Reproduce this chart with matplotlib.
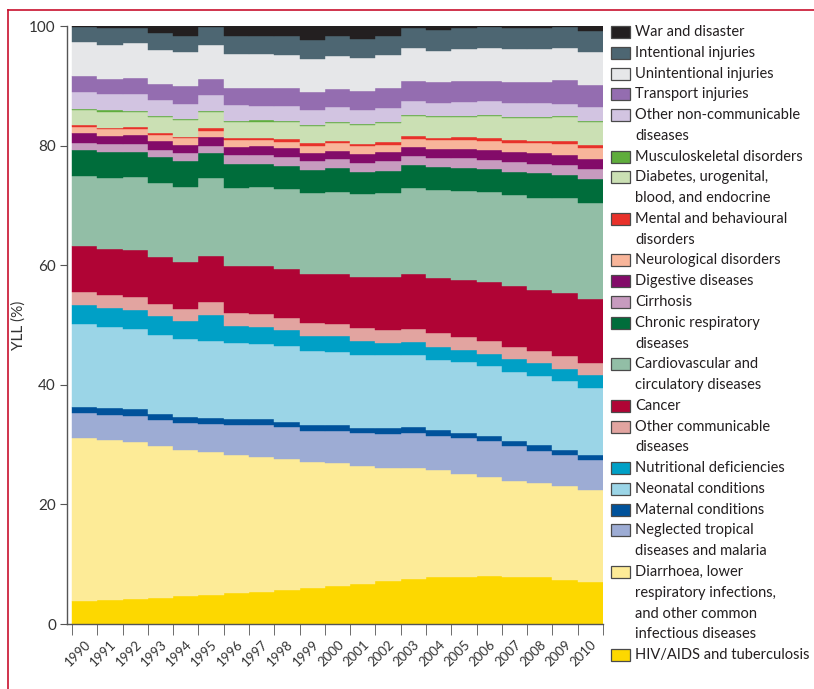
import matplotlib
matplotlib.use("Agg")
import matplotlib.pyplot as plt
from matplotlib.patches import Rectangle
from matplotlib.lines import Line2D
import numpy as np

plt.rcParams['font.family'] = ['Lato', 'DejaVu Sans']

# --- data: share of YLL (%) per cause, 1990-2010 ---
years = list(range(1990, 2011))

hiv_tb = [3.9, 4.0, 4.2, 4.4, 4.6, 4.9, 5.2, 5.4, 5.7, 6.1, 6.4, 6.7, 7.2, 7.5, 7.8, 7.9, 8.0, 7.9, 7.8, 7.4, 7.0]
diarrhoea = [27.2, 26.8, 26.2, 25.4, 24.5, 23.8, 23.1, 22.6, 21.9, 21.0, 20.5, 19.7, 18.9, 18.6, 17.9, 17.2, 16.6, 16.0, 15.7, 15.7, 15.4]
neglected = [4.2, 4.1, 4.4, 4.3, 4.5, 4.8, 5.0, 5.2, 5.3, 5.2, 5.4, 5.5, 5.7, 5.8, 5.8, 6.0, 6.0, 5.9, 5.5, 5.2, 5.0]
maternal = [1.0, 1.2, 1.2, 1.0, 1.0, 1.0, 1.0, 1.0, 0.9, 1.0, 1.0, 0.9, 1.0, 1.0, 1.0, 0.8, 0.8, 0.8, 1.0, 0.8, 0.9]
neonatal = [13.9, 13.6, 13.4, 13.2, 13.1, 12.9, 12.7, 12.7, 12.7, 12.4, 12.2, 12.2, 12.1, 12.1, 11.7, 11.9, 11.7, 11.5, 11.4, 11.5, 11.2]
nutritional = [3.1, 3.1, 3.1, 3.2, 3.0, 4.2, 2.8, 2.7, 2.7, 2.5, 2.7, 2.3, 2.1, 2.2, 2.2, 2.0, 2.1, 2.2, 2.2, 2.0, 2.1]
other_comm = [2.2, 2.2, 2.2, 2.0, 2.0, 2.2, 2.2, 2.2, 2.0, 2.1, 2.0, 2.2, 2.2, 2.1, 2.2, 2.2, 2.1, 2.0, 2.0, 2.2, 2.0]
cancer = [7.7, 7.7, 7.8, 7.9, 7.8, 7.8, 7.9, 8.0, 8.2, 8.2, 8.3, 8.5, 8.8, 9.2, 9.3, 9.5, 9.9, 10.2, 10.3, 10.5, 10.7]
cardio = [11.7, 11.9, 12.2, 12.3, 12.6, 12.9, 13.0, 13.2, 13.3, 13.6, 13.7, 13.9, 14.1, 14.4, 14.6, 14.9, 15.0, 15.2, 15.4, 15.9, 16.1]
chronic_resp = [4.4, 4.3, 4.2, 4.4, 4.3, 4.2, 4.0, 3.9, 3.9, 3.8, 4.1, 3.7, 3.7, 3.9, 3.9, 3.9, 3.9, 3.9, 4.1, 3.9, 4.0]
cirrhosis = [1.1, 1.4, 1.4, 1.2, 1.4, 1.3, 1.5, 1.5, 1.5, 1.5, 1.5, 1.5, 1.6, 1.5, 1.5, 1.6, 1.5, 1.7, 1.6, 1.7, 1.7]
digestive = [1.7, 1.3, 1.5, 1.5, 1.3, 1.4, 1.4, 1.5, 1.5, 1.4, 1.3, 1.5, 1.5, 1.5, 1.5, 1.5, 1.7, 1.6, 1.7, 1.6, 1.7]
neurological = [1.0, 1.2, 1.0, 1.0, 1.2, 1.1, 1.1, 1.0, 1.0, 1.1, 1.3, 1.3, 1.2, 1.3, 1.5, 1.5, 1.5, 1.5, 1.7, 1.9, 1.8]
mental = [0.3, 0.2, 0.3, 0.3, 0.2, 0.4, 0.4, 0.3, 0.5, 0.5, 0.4, 0.4, 0.5, 0.5, 0.3, 0.5, 0.5, 0.5, 0.4, 0.4, 0.5]
diabetes = [2.5, 2.7, 2.5, 2.7, 2.7, 2.7, 2.6, 2.8, 2.8, 2.9, 3.0, 3.1, 3.2, 3.3, 3.5, 3.4, 3.6, 3.7, 3.8, 4.0, 3.8]
musculo = [0.2] * 21
other_ncd = [2.8, 2.7, 2.8, 2.6, 2.6, 2.6, 2.7, 2.5, 2.5, 2.4, 2.5, 2.3, 2.3, 2.4, 2.3, 2.3, 2.4, 2.3, 2.3, 2.1, 2.4]
transport = [2.7, 2.6, 2.7, 2.7, 2.9, 2.7, 2.8, 3.0, 3.0, 3.1, 3.0, 3.2, 3.3, 3.3, 3.4, 3.5, 3.3, 3.5, 3.6, 3.9, 3.6]
unintentional = [5.7, 5.7, 5.9, 5.7, 5.7, 5.7, 5.7, 5.7, 5.6, 5.5, 5.5, 5.5, 5.6, 5.5, 5.3, 5.4, 5.5, 5.6, 5.5, 5.5, 5.5]
intentional = [2.5, 2.7, 2.5, 2.8, 2.8, 3.0, 3.0, 3.0, 3.1, 3.2, 3.3, 3.2, 3.1, 3.4, 3.5, 3.5, 3.5, 3.5, 3.5, 3.5, 3.6]
war = [0.3, 0.5, 0.3, 1.2, 1.7, 0.3, 1.7, 1.7, 1.7, 2.3, 1.7, 2.2, 1.7, 0.3, 0.7, 0.3, 0.2, 0.3, 0.5, 0.2, 0.8]

# bottom -> top
layers = [
    ("HIV/AIDS and tuberculosis", hiv_tb, "#fdd800"),
    ("Diarrhoea, lower\nrespiratory infections,\nand other common\ninfectious diseases", diarrhoea, "#fdeb97"),
    ("Neglected tropical\ndiseases and malaria", neglected, "#9dacd4"),
    ("Maternal conditions", maternal, "#00529b"),
    ("Neonatal conditions", neonatal, "#9bd5e7"),
    ("Nutritional deficiencies", nutritional, "#00a0c6"),
    ("Other communicable\ndiseases", other_comm, "#e2a4a0"),
    ("Cancer", cancer, "#b00435"),
    ("Cardiovascular and\ncirculatory diseases", cardio, "#92bea6"),
    ("Chronic respiratory\ndiseases", chronic_resp, "#006d3b"),
    ("Cirrhosis", cirrhosis, "#c79bbf"),
    ("Digestive diseases", digestive, "#830b69"),
    ("Neurological disorders", neurological, "#f8b59a"),
    ("Mental and behavioural\ndisorders", mental, "#e8312a"),
    ("Diabetes, urogenital,\nblood, and endocrine", diabetes, "#cbe0b4"),
    ("Musculoskeletal disorders", musculo, "#5fad3c"),
    ("Other non-communicable\ndiseases", other_ncd, "#d2c4e1"),
    ("Transport injuries", transport, "#946db0"),
    ("Unintentional injuries", unintentional, "#e6e7e9"),
    ("Intentional injuries", intentional, "#4d6672"),
    ("War and disaster", war, "#231f20"),
]

W, H = 814, 689
fig = plt.figure(figsize=(W / 100, H / 100), dpi=100)

def fx(px):
    return px / W

def fy(py):
    return 1 - py / H

ax = fig.add_axes([fx(67), fy(624), fx(603) - fx(67), fy(26) - fy(624)])

x = np.arange(len(years))
bottom = np.zeros(len(years))
for name, vals, col in layers:
    vals = np.array(vals)
    ax.bar(x, vals, width=1.0, bottom=bottom, color=col, edgecolor=col,
           linewidth=0.3, align="center")
    bottom += vals

ax.set_xlim(-0.7, len(years) - 0.5)
ax.set_ylim(0, 100)

for s in ["top", "right"]:
    ax.spines[s].set_visible(False)
for s in ["left", "bottom"]:
    ax.spines[s].set_color("#555555")
    ax.spines[s].set_linewidth(1.0)

ax.set_yticks([0, 20, 40, 60, 80, 100])
ax.tick_params(axis="y", length=5, color="#555555", labelsize=11, labelcolor="#333333", pad=3)
ax.set_xticks(x)
ax.set_xticklabels([str(y) for y in years], rotation=45, ha="right", va="top",
                   rotation_mode="anchor", fontsize=9.5, color="#333333")
ax.tick_params(axis="x", which="major", length=0, pad=10)
ax.set_xticks(np.arange(-0.5, len(years)), minor=True)
ax.tick_params(axis="x", which="minor", length=8, color="#555555")
ax.set_ylabel("YLL (%)", fontsize=11, color="#333333")
ax.yaxis.set_label_coords(-0.077, 0.5)

# legend, drawn top -> bottom
line_h = 20.77
line = 0
for name, vals, col in reversed(layers):
    cy = 32 + line * line_h
    fig.patches.append(Rectangle((fx(611), fy(cy + 6)), fx(19), fy(cy - 6) - fy(cy + 6),
                                 transform=fig.transFigure, facecolor=col,
                                 edgecolor="#4a4a4a", linewidth=0.9))
    for i, part in enumerate(name.split("\n")):
        fig.text(fx(635), fy(cy + i * line_h), part, fontsize=10.5, color="#231f20",
                 ha="left", va="center")
    line += len(name.split("\n"))

# frame lines
fig.add_artist(Line2D([fx(8), 1], [fy(10), fy(10)], color="#c8102e", linewidth=1.2))
fig.add_artist(Line2D([fx(8), fx(8)], [fy(10), 0], color="#c8102e", linewidth=1.2))

fig.savefig("out.png", dpi=100)
